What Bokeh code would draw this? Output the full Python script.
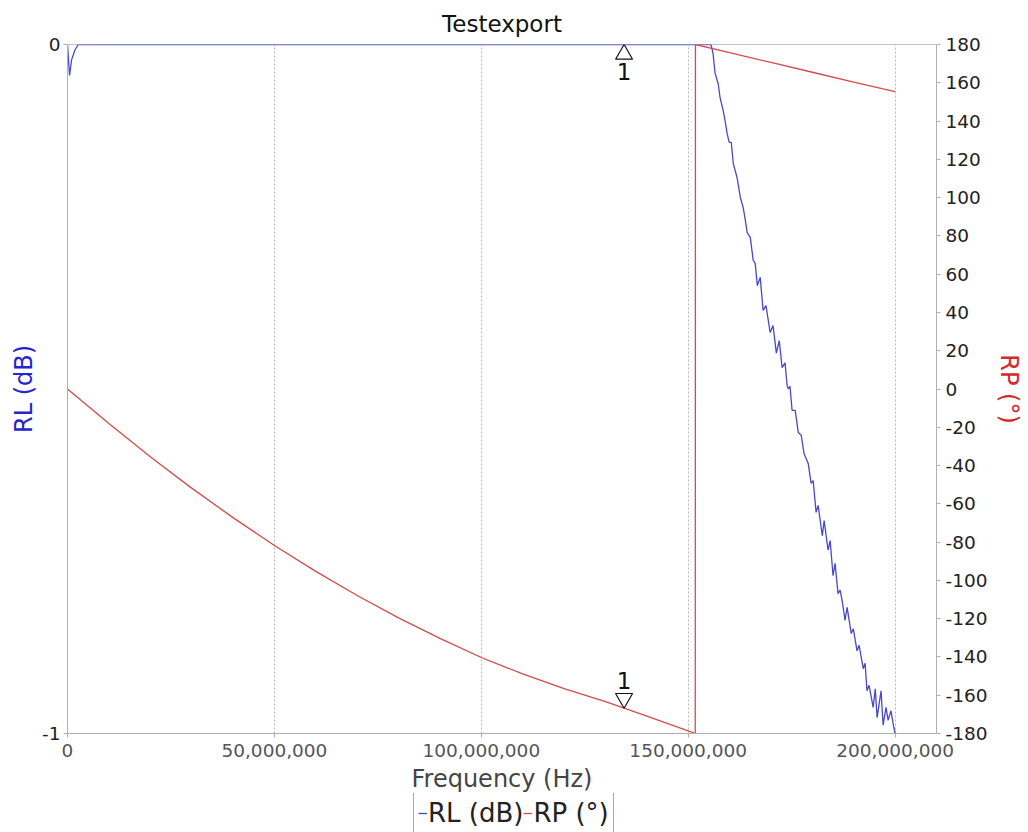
import numpy as np
from bokeh.plotting import figure
from bokeh.layouts import column
from bokeh.models import (Range1d, LinearAxis, FixedTicker, NumeralTickFormatter,
                          PrintfTickFormatter, Legend, LegendItem)
from bokeh.core.properties import value
from bokeh.embed import file_html
from bokeh.resources import INLINE

FONT = "DejaVu Sans"
BLUE = "#4848cc"
RED = "#d84a4a"

# Return loss trace (frequency in MHz, level in dB)
rl_freq_mhz = [0, 0.5, 1.0, 1.8, 2.6, 155.5, 156.0, 156.5, 157.25, 157.7, 158.45,
               158.9, 159.4, 159.9, 160.4, 160.9, 161.8, 162.6, 163.3, 163.8, 164.25,
               165.0, 165.7, 166.2, 166.7, 167.4, 168.1, 168.8, 169.8, 170.5, 171.3,
               172.0, 172.7, 173.4, 173.9, 174.2, 174.6, 175.1, 175.85, 176.6, 177.3,
               178.0, 179.0, 179.7, 180.2, 180.9, 181.4, 182.4, 182.85, 183.8, 184.3,
               185.0, 185.5, 186.2, 186.7, 187.2, 187.9, 188.4, 189.4, 189.9, 190.8,
               191.3, 192.3, 192.75, 193.2, 193.7, 194.7, 195.2, 195.65, 196.6, 197.1,
               197.8, 198.3, 199.0, 199.5, 200.0]
rl_db = [0, -0.045, -0.022, -0.008, 0, 0, -0.013, -0.042, -0.057, -0.077, -0.096,
         -0.110, -0.129, -0.142, -0.142, -0.173, -0.193, -0.222, -0.237, -0.255, -0.273,
         -0.280, -0.313, -0.318, -0.350, -0.338, -0.386, -0.379, -0.418, -0.408, -0.448,
         -0.430, -0.469, -0.462, -0.495, -0.500, -0.496, -0.531, -0.531, -0.563, -0.567,
         -0.594, -0.608, -0.637, -0.633, -0.679, -0.669, -0.713, -0.691, -0.734, -0.720,
         -0.771, -0.753, -0.797, -0.792, -0.807, -0.836, -0.817, -0.855, -0.848, -0.880,
         -0.872, -0.906, -0.898, -0.938, -0.930, -0.962, -0.935, -0.977, -0.938, -0.988,
         -0.962, -0.981, -0.967, -0.985, -1.0]

# Return phase trace (frequency in MHz, phase in degrees, wrapped at +/-180)
rp_freq_mhz = [0, 10, 20, 30, 40, 50, 60, 70, 80, 90, 100, 110, 120, 130, 134.5,
               140, 150, 151.7, 151.75, 160, 170, 180, 190, 200]
rp_deg = [0, -18.0, -35.4, -51.8, -67.2, -81.8, -95.3, -107.9, -119.6, -130.3,
          -140.3, -148.9, -156.6, -163.4, -166.8, -170.9, -178.6, -180, 180,
          175.7, 170.6, 165.5, 160.4, 155.4]

marker_freq_mhz = [134.5]
marker_labels = ["1"]

x_ticks_hz = [0, 50e6, 100e6, 150e6, 200e6]
rl_ticks = [-1, 0]
rp_ticks = list(range(-180, 181, 20))

W = 1028
PLOT_H, LEGEND_H, LEGEND_OVERLAP = 801, 39, 8
LEFT, RIGHT, TOP, BOTTOM = 67, 92, 44, 68
FRAME_H = PLOT_H - TOP - BOTTOM

X_RANGE = (0, 210e6)
RL_RANGE = (-1.0, 0.0)
RP_RANGE = (-180.0, 180.0)

p = figure(width=W, height=PLOT_H, title="Testexport",
           x_range=Range1d(*X_RANGE), y_range=Range1d(*RL_RANGE),
           min_border_left=LEFT, min_border_right=RIGHT,
           min_border_top=TOP, min_border_bottom=BOTTOM,
           output_backend="svg", toolbar_location=None)
p.extra_y_ranges = {"rp": Range1d(*RP_RANGE)}
p.background_fill_color = "white"
# transparent border so the legend strip below can overlap the bottom margin
p.border_fill_alpha = 0
p.outline_line_color = "#c4c4c4"

p.title.text_font = FONT
p.title.text_font_size = "23px"
p.title.text_font_style = "normal"
p.title.text_color = "#111111"
p.title.align = "center"
p.title.standoff = 16


def style_axis(ax, label_color, tick_color):
    ax.axis_label_text_font = FONT
    ax.axis_label_text_font_size = "24px"
    ax.axis_label_text_font_style = "normal"
    ax.axis_label_text_color = label_color
    ax.major_label_text_font = FONT
    ax.major_label_text_font_size = "18.5px"
    ax.major_label_text_color = tick_color
    ax.axis_line_color = "#b0b0b0"
    ax.major_tick_line_color = "#b0b0b0"
    ax.major_tick_in = 0
    ax.major_tick_out = 4
    ax.minor_tick_line_color = None


xa = p.xaxis[0]
xa.ticker = FixedTicker(ticks=x_ticks_hz)
xa.formatter = NumeralTickFormatter(format="0,0")
xa.axis_label = "Frequency (Hz)"
style_axis(xa, "#444444", "#555555")
xa.major_label_standoff = 6
xa.axis_label_standoff = 5

ya = p.yaxis[0]
ya.ticker = FixedTicker(ticks=rl_ticks)
ya.formatter = PrintfTickFormatter(format="%d")
ya.axis_label = "RL (dB)"
style_axis(ya, "#2424d0", "#222222")
ya.major_label_standoff = 3
ya.axis_label_standoff = 1

ra = LinearAxis(y_range_name="rp", ticker=FixedTicker(ticks=rp_ticks),
                formatter=PrintfTickFormatter(format="%d"), axis_label="RP (°)")
style_axis(ra, "#d42a2a", "#222222")
ra.major_label_standoff = 5
ra.axis_label_standoff = 5
p.add_layout(ra, "right")

for g in (p.xgrid[0], p.ygrid[0]):
    g.grid_line_color = "#b8b8b8"
    g.grid_line_dash = "2 2"
    g.grid_line_width = 1

rl_x = np.array(rl_freq_mhz) * 1e6
rp_x = np.array(rp_freq_mhz) * 1e6
rl_style = dict(line_color=BLUE, line_width=1.3)
rp_style = dict(line_color=RED, line_width=1.3)
p.line(rl_x, rl_db, **rl_style)
p.line(rp_x, rp_deg, y_range_name="rp", **rp_style)

# Marker 1: upward triangle on RL, downward triangle on RP
mk_x = np.array(marker_freq_mhz) * 1e6
mk_rl = np.interp(mk_x, rl_x, rl_db)
mk_rp = np.interp(mk_x, rp_x[:17], rp_deg[:17])
TRI = 17
tri_h = TRI / 2 * np.sqrt(3)
px_rl = (RL_RANGE[1] - RL_RANGE[0]) / FRAME_H
px_rp = (RP_RANGE[1] - RP_RANGE[0]) / FRAME_H
p.scatter(mk_x, mk_rl - (2 * tri_h / 3) * px_rl, marker="triangle", size=TRI,
          fill_color="white", line_color="#111111", line_width=1.2)
p.scatter(mk_x, mk_rp + (2 * tri_h / 3) * px_rp, marker="inverted_triangle", size=TRI,
          fill_color="white", line_color="#111111", line_width=1.2, y_range_name="rp")
p.text(mk_x, mk_rl, text=marker_labels, text_font=value(FONT), text_font_size="23px",
       text_align="center", text_baseline="middle", text_color="#111111", y_offset=27)
p.text(mk_x, mk_rp, text=marker_labels, text_font=value(FONT), text_font_size="23px",
       text_align="center", text_baseline="middle", text_color="#111111", y_offset=-28,
       y_range_name="rp")

# Legend strip under the chart; its key lines reuse the trace data, kept out of view
leg = figure(width=W, height=LEGEND_H, x_range=Range1d(-2, -1), y_range=Range1d(-2, -1),
             min_border=0, output_backend="svg", toolbar_location=None,
             x_axis_location=None, y_axis_location=None,
             margin=(-LEGEND_OVERLAP, 0, 0, 0))
leg.outline_line_color = None
leg.grid.visible = False
leg.border_fill_alpha = 0
leg.background_fill_alpha = 0
rl_key = leg.line(rl_x, np.abs(rl_db), **rl_style)
rp_key = leg.line(rp_x, np.abs(rp_deg), **rp_style)

legend = Legend(items=[LegendItem(label="RL (dB)", renderers=[rl_key]),
                       LegendItem(label="RP (°)", renderers=[rp_key])],
                orientation="horizontal", location=(413 - LEFT, -2))
legend.label_text_font = FONT
legend.label_text_font_size = "26px"
legend.label_text_color = "#222222"
legend.glyph_width = 9
legend.glyph_height = 32
legend.label_standoff = 1
legend.spacing = 0
legend.padding = 4
legend.margin = 0
legend.border_line_color = "#555555"
legend.border_line_width = 1
legend.background_fill_alpha = 1
leg.add_layout(legend, "center")

layout = column(p, leg, spacing=0)
open("out.html", "w").write(file_html(layout, INLINE))
